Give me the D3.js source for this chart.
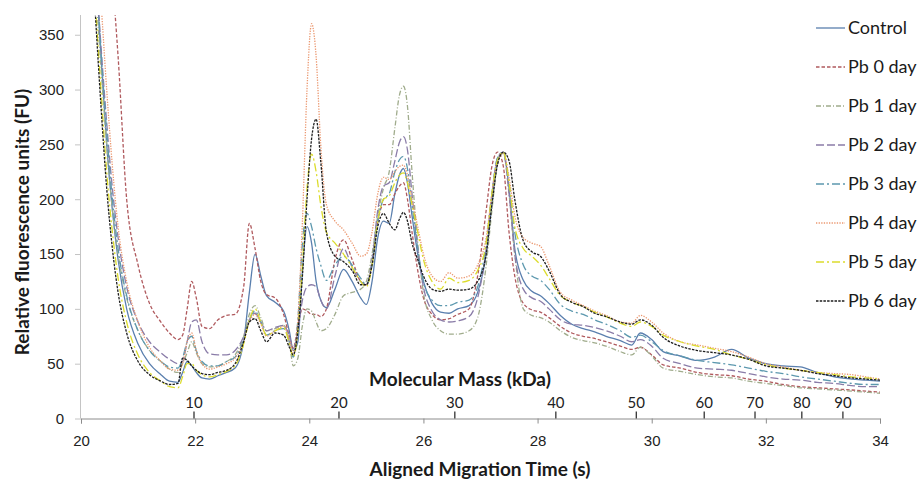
<!DOCTYPE html>
<html>
<head>
<meta charset="utf-8">
<script src="https://cdn.jsdelivr.net/npm/d3@7"></script>
<style>
  body { margin: 0; background: #fff; }
  svg { font-family: Lato, "Open Sans", sans-serif; }
</style>
</head>
<body>
<div id="chart"></div>
<script>
const times = [20.25, 20.35, 20.45, 20.55, 20.65, 20.8, 21.0, 21.2, 21.4, 21.55, 21.7, 21.78, 21.86, 21.94, 22.02, 22.12, 22.25, 22.4, 22.55, 22.7,
  22.85, 22.95, 23.05, 23.15, 23.25, 23.4, 23.55, 23.65, 23.72, 23.8, 23.88, 23.96, 24.04, 24.12, 24.2, 24.3, 24.45, 24.6, 24.75, 24.9,
  25.0, 25.1, 25.2, 25.3, 25.4, 25.5, 25.58, 25.65, 25.72, 25.8, 25.9, 26.0, 26.15, 26.3, 26.45, 26.6, 26.8, 26.95, 27.1, 27.2,
  27.3, 27.4, 27.5, 27.6, 27.75, 27.9, 28.05, 28.2, 28.4, 28.6, 28.8, 29.0, 29.2, 29.45, 29.65, 29.8, 30.0, 30.2, 30.5, 30.8,
  31.1, 31.4, 31.7, 32.0, 32.3, 32.6, 32.9, 33.2, 33.5, 33.75, 34.0];

const control = [420, 330, 250, 190, 145, 100, 68, 50, 40, 34, 33, 42, 52, 48, 42, 37, 36, 39, 42, 46,
  70, 115, 150, 130, 112, 106, 98, 80, 62, 70, 135, 175, 160, 125, 108, 101, 118, 136, 125, 110,
  104, 125, 165, 180, 178, 205, 222, 228, 215, 185, 150, 125, 105, 97, 96, 100, 103, 115, 150, 195,
  235, 243, 210, 155, 126, 116, 112, 105, 94, 86, 82, 79, 75, 71, 67, 78, 72, 61, 57, 53,
  56, 63, 55, 50, 48, 47, 42, 38, 36, 35, 34];
const pb0 = [500, 500, 450, 400, 330, 200, 140, 105, 88, 78, 72, 76, 100, 125, 110, 84, 82, 90, 94, 95,
  120, 178, 155, 125, 113, 110, 95, 75, 64, 85, 100, 98, 95, 95, 93, 100, 145, 163, 145, 125,
  122, 140, 180, 195, 195, 205, 212, 215, 200, 170, 135, 110, 95, 90, 91, 95, 100, 130, 190, 230,
  243, 230, 170, 130, 105, 99, 97, 92, 84, 78, 75, 73, 70, 66, 63, 65, 58, 49, 46, 42,
  40, 39, 36, 34, 31, 29, 28, 27, 26, 25, 24];
const pb1 = [400, 320, 250, 190, 150, 110, 80, 62, 52, 45, 42, 50, 60, 70, 60, 50, 47, 48, 52, 58,
  75, 95, 103, 92, 80, 82, 85, 70, 48, 55, 85, 100, 98, 88, 80, 82, 95, 112, 115, 118,
  125, 150, 185, 210, 225, 265, 295, 303, 285, 225, 160, 115, 90, 80, 77, 77, 80, 92, 140, 190,
  232, 242, 205, 150, 100, 94, 92, 88, 80, 74, 71, 69, 66, 61, 58, 65, 57, 46, 43, 40,
  38, 37, 34, 32, 30, 28, 27, 26, 25, 24, 23];
const pb2 = [420, 340, 270, 210, 165, 120, 88, 70, 60, 54, 50, 52, 70, 88, 90, 70, 59, 58, 58, 62,
  75, 90, 96, 88, 80, 83, 85, 75, 64, 80, 108, 120, 122, 120, 108, 100, 130, 155, 138, 125,
  122, 145, 190, 212, 215, 235, 252, 257, 245, 205, 155, 120, 98, 90, 88, 89, 93, 110, 155, 205,
  238, 243, 205, 150, 118, 110, 107, 100, 90, 86, 85, 83, 80, 75, 70, 72, 66, 55, 50, 46,
  45, 44, 41, 38, 36, 35, 33, 32, 30, 29, 29];
const pb3 = [420, 335, 262, 200, 155, 112, 80, 62, 52, 47, 46, 55, 70, 75, 62, 52, 48, 48, 52, 56,
  72, 90, 98, 88, 76, 80, 82, 70, 56, 90, 160, 187, 175, 155, 140, 126, 140, 148, 140, 128,
  122, 140, 180, 200, 205, 225, 236, 239, 228, 195, 155, 125, 108, 103, 103, 106, 108, 120, 160, 205,
  238, 243, 215, 170, 140, 130, 126, 118, 104, 98, 95, 90, 86, 80, 74, 76, 70, 62, 57, 53,
  51, 49, 46, 43, 41, 38, 36, 34, 32, 31, 31];
const pb4 = [450, 380, 300, 230, 175, 125, 88, 65, 52, 45, 44, 50, 70, 78, 62, 50, 45, 47, 50, 55,
  70, 88, 95, 86, 75, 80, 84, 72, 60, 90, 180, 300, 360, 330, 250, 195, 180, 172, 160, 148,
  150, 170, 205, 220, 218, 225, 230, 231, 222, 200, 175, 150, 130, 125, 133, 128, 130, 140, 165, 205,
  235, 242, 220, 185, 165, 160, 157, 140, 115, 108, 103, 98, 94, 88, 87, 94, 88, 78, 70, 67,
  64, 61, 56, 50, 47, 44, 42, 41, 40, 38, 36];
const pb5 = [380, 300, 225, 170, 128, 88, 58, 42, 34, 29, 28, 38, 50, 50, 44, 40, 38, 40, 43, 48,
  68, 90, 100, 88, 76, 80, 83, 68, 56, 80, 140, 210, 241, 225, 195, 170, 160, 150, 138, 125,
  120, 140, 180, 200, 203, 215, 222, 224, 215, 195, 170, 145, 125, 118, 128, 124, 126, 135, 160, 205,
  236, 243, 215, 175, 155, 148, 140, 128, 112, 106, 102, 97, 93, 87, 84, 88, 84, 76, 70, 66,
  63, 58, 54, 49, 46, 44, 42, 40, 38, 37, 36];
const pb6 = [370, 285, 210, 155, 115, 78, 52, 40, 34, 31, 32, 55, 53, 48, 44, 41, 40, 42, 44, 50,
  70, 88, 91, 80, 70, 78, 76, 65, 58, 80, 130, 200, 255, 273, 235, 170, 148, 143, 135, 122,
  122, 140, 175, 187, 178, 172, 182, 188, 180, 160, 145, 130, 118, 116, 118, 117, 118, 125, 150, 195,
  232, 243, 235, 200, 162, 152, 148, 135, 113, 106, 102, 96, 93, 88, 86, 90, 85, 74, 66, 62,
  60, 58, 54, 48, 46, 44, 41, 39, 37, 36, 35];

const seriesNames = ["Control", "Pb 0 day", "Pb 1 day", "Pb 2 day", "Pb 3 day", "Pb 4 day", "Pb 5 day", "Pb 6 day"];
const seriesValues = [control, pb0, pb1, pb2, pb3, pb4, pb5, pb6];

const xTicks = [20, 22, 24, 26, 28, 30, 32, 34];
const yTicks = [0, 50, 100, 150, 200, 250, 300, 350];
// molecular mass ladder, placed at migration time
const kdaLabels = [10, 20, 30, 40, 50, 60, 70, 80, 90];
const kdaTimes = [21.98, 24.52, 26.55, 28.32, 29.73, 30.92, 31.81, 32.63, 33.35];

(() => {
    const width = 920, height = 481;
    const plot = { left: 81, right: 880, top: 15, bottom: 418.5 };

    const colors = ["#5a7fae", "#b05a5e", "#a0ac8c", "#8a7ca8", "#5c98ae", "#eb9870", "#dcdc2c", "#1e1e1e"];
    const dashes = ["none", "3.5,2", "5,2,1,2", "8,3", "8,3,2,3", "1.3,1.3", "8,3,2,3", "2.5,1.2"];

    const x = d3.scaleLinear().domain([20, 34]).range([plot.left, plot.right]);
    const y = d3.scaleLinear().domain([0, 368]).range([plot.bottom, plot.top]);

    const svg = d3.select("#chart")
        .append("svg")
        .attr("width", width)
        .attr("height", height);

    svg.append("defs").append("clipPath")
        .attr("id", "clip")
        .append("rect")
        .attr("x", plot.left)
        .attr("y", plot.top)
        .attr("width", plot.right - plot.left)
        .attr("height", plot.bottom - plot.top);

    // y axis
    const yAxis = svg.append("g")
        .attr("transform", `translate(${plot.left},0)`)
        .call(d3.axisLeft(y).tickValues(yTicks).tickSize(6).tickPadding(11));
    yAxis.select(".domain").attr("stroke", "#c4c4c4").attr("d", `M-0.5,${plot.bottom}V${plot.top}`);
    yAxis.selectAll(".tick line").attr("stroke", "#c4c4c4");
    yAxis.selectAll("text").style("font-size", "15px").attr("fill", "#222");

    // x axis
    const xAxis = svg.append("g")
        .attr("transform", `translate(0,${plot.bottom})`)
        .call(d3.axisBottom(x).tickValues(xTicks).tickSize(5).tickPadding(12));
    xAxis.select(".domain").attr("stroke", "#8c8c8c");
    xAxis.selectAll(".tick line").attr("stroke", "#8c8c8c");
    xAxis.selectAll("text").style("font-size", "15px").attr("fill", "#222");

    // molecular mass ticks above the x axis
    const kda = svg.append("g").attr("transform", `translate(0,${plot.bottom})`);
    kda.selectAll("line")
        .data(kdaLabels)
        .enter()
        .append("line")
        .attr("x1", (d, i) => x(kdaTimes[i]))
        .attr("x2", (d, i) => x(kdaTimes[i]))
        .attr("y1", 0)
        .attr("y2", -7)
        .attr("stroke", "#333")
        .attr("stroke-width", 1.3);
    kda.selectAll("text")
        .data(kdaLabels)
        .enter()
        .append("text")
        .attr("x", (d, i) => x(kdaTimes[i]))
        .attr("y", -10.5)
        .attr("text-anchor", "middle")
        .style("font-size", "15px")
        .attr("fill", "#222")
        .text(d => d);

    const line = d3.line()
        .x((d, i) => x(times[i]))
        .y(d => y(d))
        .curve(d3.curveMonotoneX);

    svg.append("g")
        .attr("clip-path", "url(#clip)")
        .selectAll("path")
        .data(seriesValues)
        .enter()
        .append("path")
        .attr("d", d => line(d))
        .attr("fill", "none")
        .attr("stroke", (d, i) => colors[i])
        .attr("stroke-width", 1.3)
        .attr("stroke-dasharray", (d, i) => dashes[i]);

    // titles
    svg.append("text")
        .attr("x", 460)
        .attr("y", 386)
        .attr("text-anchor", "middle")
        .style("font-size", "19px")
        .style("font-weight", "bold")
        .attr("fill", "#1a1a1a")
        .text("Molecular Mass (kDa)");

    svg.append("text")
        .attr("x", 480)
        .attr("y", 476)
        .attr("text-anchor", "middle")
        .style("font-size", "19px")
        .style("font-weight", "bold")
        .attr("fill", "#1a1a1a")
        .text("Aligned Migration Time (s)");

    svg.append("text")
        .attr("transform", "translate(29,222) rotate(-90)")
        .attr("text-anchor", "middle")
        .style("font-size", "19px")
        .style("font-weight", "bold")
        .attr("fill", "#1a1a1a")
        .text("Relative fluorescence units (FU)");

    // legend
    const legend = svg.append("g")
        .selectAll("g")
        .data(seriesNames)
        .enter()
        .append("g")
        .attr("transform", (d, i) => `translate(816,${28 + i * 39})`);
    legend.append("line")
        .attr("x1", 0)
        .attr("x2", 29)
        .attr("stroke", (d, i) => colors[i])
        .attr("stroke-width", 1.3)
        .attr("stroke-dasharray", (d, i) => dashes[i]);
    legend.append("text")
        .attr("x", 32)
        .attr("dy", "0.35em")
        .style("font-size", "18px")
        .attr("fill", "#1a1a1a")
        .text(d => d);
})();
</script>
</body>
</html>
